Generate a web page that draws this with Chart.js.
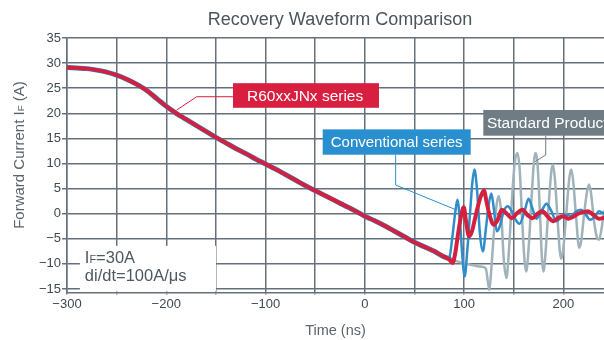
<!DOCTYPE html>
<html>
<head>
<meta charset="utf-8">
<script src="https://cdn.jsdelivr.net/npm/chart.js@4.4.1/dist/chart.umd.min.js"></script>
<style>
  html, body { margin: 0; padding: 0; background: #fff; }
  #wrap { width: 604px; height: 340px; }
</style>
</head>
<body>
<div id="wrap"><canvas id="recoveryChart"></canvas></div>
<script>
// falling edge, all three parts sit on top of each other here (ns / A)
const fallTime = [-300, -290, -280, -270, -260, -250, -240, -230, -220, -210, -200, -190, -180, -170, -160, -150, -140, -130, -120, -110, -100, -90, -80, -70, -60, -50, -40, -30, -20, -10, 0, 10, 20, 30, 40, 50, 60, 70, 80];
const fallCurrent = [29.1, 29.0, 28.9, 28.6, 28.2, 27.6, 26.8, 25.8, 24.6, 23.0, 21.4, 20.0, 18.8, 17.6, 16.4, 15.2, 14.1, 13.0, 12.0, 10.9, 9.9, 8.9, 7.8, 6.7, 5.6, 4.6, 3.6, 2.6, 1.6, 0.6, -0.5, -1.4, -2.4, -3.5, -4.6, -5.7, -6.6, -7.5, -8.6];

// R60xxJNx series after recovery
const r60Time = [85, 88.5, 91, 94, 97, 99.7, 102, 105, 108, 111, 114, 117, 120, 123, 126, 130, 134, 138, 143, 148, 153, 159, 164, 169, 174, 179, 184, 190, 195, 200, 205, 210, 215, 220, 225, 230, 236, 241];
const r60Current = [-9.1, -9.8, -8, -4, -0.5, 1.3, -1.5, -4.5, -3.5, -1, 1.5, 3.5, 4.6, 2, -0.5, -2.2, -1.2, 0.8, 0, -0.9, 0, 0.8, -0.3, -0.9, 0, 0.5, -0.5, -1.5, -0.8, -0.5, -1, -0.6, 0, 0.3, 0.5, -0.2, -1, -0.8];

// conventional series after recovery
const convTime = [85, 88, 91, 93.3, 96, 98.5, 100.7, 103, 106, 108.5, 110.5, 113, 116, 119, 122, 125, 127.5, 130, 133, 136, 140, 144, 148, 152, 156, 161, 165, 169, 173, 178, 183, 188, 193, 198, 203, 208, 213, 218, 222, 227, 232, 236, 241];
const convCurrent = [-8.9, -5, 0, 2.8, -2, -9, -12.5, -8, 0, 6.5, 8.8, 5, -4, -7.5, -3, 2, 4, 1, -3.5, -2.5, 0.5, 1.5, 0.5, -1.2, -2, 0.5, 3, 1, -1, 0.5, 2, 0.5, -1.5, -0.8, -0.2, -0.5, 0.5, 0.8, 0, -1.2, -0.5, 0.5, 0];

// standard product after recovery
const stdTime = [85, 90, 95, 100, 105, 110, 115, 119, 122, 124, 125.5, 127.5, 130, 133, 135, 137.5, 140, 142.7, 145, 148, 151, 153.7, 156, 158.5, 161, 162.7, 165, 168, 170.5, 172, 174, 176.5, 178.5, 180, 182, 185, 188, 189.6, 191.5, 194.5, 196.5, 198, 200, 203, 206, 208, 210, 213, 216, 218, 221, 224, 226, 228, 231, 234, 236, 238.5, 241];
const stdCurrent = [-8.9, -9.3, -9.6, -9.9, -10.1, -10.3, -10.5, -10.6, -11, -13.5, -15.2, -11, -4, 2, 3.5, 0, -9, -12.8, -8, 2, 10, 12.1, 9, -1, -9.5, -11.5, -7, 3, 10.5, 12.1, 10, 0, -9, -11.5, -8, 1, 8.5, 9.8, 7, -2, -7.5, -9, -7, 0, 7, 8.8, 6.5, -1, -6.8, -5.5, 0, 4.5, 5.8, 4, -1.5, -4.8, -5.2, -3, 0.5];

// grid / tick values
const xGrid = [-300, -250, -200, -150, -100, -50, 0, 50, 100, 150, 200];
const xLabelled = [-300, -200, -100, 0, 100, 200];
const yGrid = [-15, -10, -5, 0, 5, 10, 15, 20, 25, 30, 35];

const FONT = "'Liberation Sans', Arial, sans-serif";
const GRID = '#64707a';
const TEXT = '#3e4850';

function toPoints(times, currents) {
  return times.map((t, i) => ({ x: t, y: currents[i] }));
}
const fallPoints = toPoints(fallTime, fallCurrent);

// minus sign like the original (U+2212)
const fmt = v => String(v).replace('-', '\u2212');

// text with small "F" subscript parts: runs = [[text, isSub], ...]
function runsWidth(ctx, runs, size) {
  let w = 0;
  runs.forEach(([txt, sub]) => {
    ctx.font = `${sub ? size * 0.66 : size}px ${FONT}`;
    w += ctx.measureText(txt).width;
  });
  return w;
}
function drawRuns(ctx, runs, x, y, size) {
  let cx = x;
  runs.forEach(([txt, sub]) => {
    ctx.font = `${sub ? size * 0.66 : size}px ${FONT}`;
    ctx.fillText(txt, cx, y);
    cx += ctx.measureText(txt).width;
  });
}

// title, axis title, callouts and the conditions box
const decorations = {
  id: 'decorations',
  beforeDatasetsDraw(chart) {
    const { ctx, scales: { x, y } } = chart;
    // white conditions box hides the grid in the lower left
    const l = x.getPixelForValue(-287), r = x.getPixelForValue(-149.9);
    const t = y.getPixelForValue(-6.4), b = chart.chartArea.bottom - 1;
    ctx.save();
    ctx.fillStyle = '#fff';
    ctx.fillRect(l, t, r - l, b - t);
    ctx.fillStyle = '#4d5860';
    ctx.textBaseline = 'alphabetic';
    drawRuns(ctx, [['I', false], ['F', true], ['=30A', false]], x.getPixelForValue(-282), y.getPixelForValue(-8.7) + 6, 16.5);
    drawRuns(ctx, [['di/dt=100A/\u03bcs', false]], x.getPixelForValue(-282), y.getPixelForValue(-12.2) + 6, 16.5);
    ctx.restore();
  },
  afterDraw(chart) {
    const { ctx, scales: { x, y } } = chart;
    const px = v => x.getPixelForValue(v);
    const py = v => y.getPixelForValue(v);
    ctx.save();

    // chart title
    ctx.fillStyle = '#4a555d';
    ctx.font = `18px ${FONT}`;
    ctx.textAlign = 'center';
    ctx.textBaseline = 'middle';
    ctx.fillText('Recovery Waveform Comparison', 340, 20);

    // y axis title, rotated
    ctx.save();
    ctx.translate(18, 155);
    ctx.rotate(-Math.PI / 2);
    ctx.textAlign = 'left';
    ctx.textBaseline = 'alphabetic';
    ctx.fillStyle = '#5a646b';
    const yRuns = [['Forward Current I', false], ['F', true], [' (A)', false]];
    drawRuns(ctx, yRuns, -runsWidth(ctx, yRuns, 15) / 2, 5.5, 15);
    ctx.restore();

    // callouts: leader line + coloured label box
    const callouts = [
      { text: 'R60xxJNx series', color: '#d81f3f', box: [-132.8, 14.3, 26.0, 21.1], textX: -118.7,
        leader: [[-132.8, 23.3], [-169.3, 23.3], [-189.5, 20.65]], size: 15.5 },
      { text: 'Conventional series', color: '#2a8fcf', box: [-42.4, 106.7, 16.8, 11.75], textX: -34.3,
        leader: [[31.1, 11.75], [31.1, 5.7], [90.9, 0.86]], size: 15 },
      { text: 'Standard Product', color: '#6f7c84', box: [119.4, 260, 20.66, 15.54], textX: 123.1,
        leader: [[182.3, 15.54], [182.3, 11.7], [171.5, 10.36]], size: 15.5 }
    ];
    callouts.forEach(c => {
      ctx.strokeStyle = c.color;
      ctx.lineWidth = 1;
      ctx.beginPath();
      c.leader.forEach(([lx, ly], i) => {
        if (i === 0) ctx.moveTo(px(lx), py(ly));
        else ctx.lineTo(px(lx), py(ly));
      });
      ctx.stroke();

      const [x0, x1, y0, y1] = c.box;
      ctx.fillStyle = c.color;
      ctx.fillRect(px(x0), py(y0), px(x1) - px(x0), py(y1) - py(y0));
      ctx.fillStyle = '#fff';
      ctx.font = `${c.size}px ${FONT}`;
      ctx.textAlign = 'left';
      ctx.textBaseline = 'middle';
      ctx.fillText(c.text, px(c.textX), (py(y0) + py(y1)) / 2 + 1);
    });
    ctx.restore();
  }
};

const ctx = document.getElementById('recoveryChart').getContext('2d');
new Chart(ctx, {
  type: 'line',
  data: {
    datasets: [
      {
        label: 'R60xxJNx series',
        data: fallPoints.concat(toPoints(r60Time, r60Current)),
        borderColor: '#d3203f',
        borderWidth: 4,
        order: 1
      },
      {
        label: 'Conventional series',
        data: fallPoints.concat(toPoints(convTime, convCurrent)),
        borderColor: '#2f8dcb',
        borderWidth: 2.5,
        // a bit wider on the shared edge so it peeks out round the red trace
        segment: { borderWidth: c => c.p1.parsed.x <= 85 ? 5 : 2.5 },
        order: 2
      },
      {
        label: 'Standard Product',
        data: fallPoints.concat(toPoints(stdTime, stdCurrent)),
        borderColor: '#a0b2ba',
        borderWidth: 2.5,
        order: 3
      }
    ]
  },
  options: {
    responsive: true,
    maintainAspectRatio: false,
    animation: false,
    layout: { padding: { top: 38, left: 0, right: 0, bottom: 0 } },
    elements: {
      point: { radius: 0 },
      line: { cubicInterpolationMode: 'monotone', borderJoinStyle: 'round', borderCapStyle: 'round' }
    },
    plugins: {
      legend: { display: false },
      tooltip: { enabled: false }
    },
    scales: {
      x: {
        type: 'linear',
        min: -300,
        max: 241,
        afterBuildTicks: s => { s.ticks = xGrid.map(v => ({ value: v })); },
        afterFit: s => { s.height = 47.5; },
        grid: { color: GRID, lineWidth: 1.5, tickLength: 2 },
        border: { color: GRID, width: 1.5 },
        ticks: {
          autoSkip: false,
          maxRotation: 0,
          padding: 2,
          color: TEXT,
          font: { family: FONT, size: 13 },
          callback: v => xLabelled.includes(v) ? fmt(v) : ''
        },
        title: {
          display: true,
          text: 'Time (ns)',
          color: '#5a646b',
          font: { family: FONT, size: 14.5 },
          padding: 0
        }
      },
      y: {
        min: -15.7,
        max: 35,
        afterBuildTicks: s => { s.ticks = yGrid.map(v => ({ value: v })); },
        afterFit: s => { s.width = 67; },
        grid: { color: GRID, lineWidth: 1.5, tickLength: 5 },
        border: { color: GRID, width: 1.5 },
        ticks: {
          padding: 1,
          color: TEXT,
          font: { family: FONT, size: 13 },
          callback: v => fmt(v)
        }
      }
    }
  },
  plugins: [decorations]
});
</script>
</body>
</html>
